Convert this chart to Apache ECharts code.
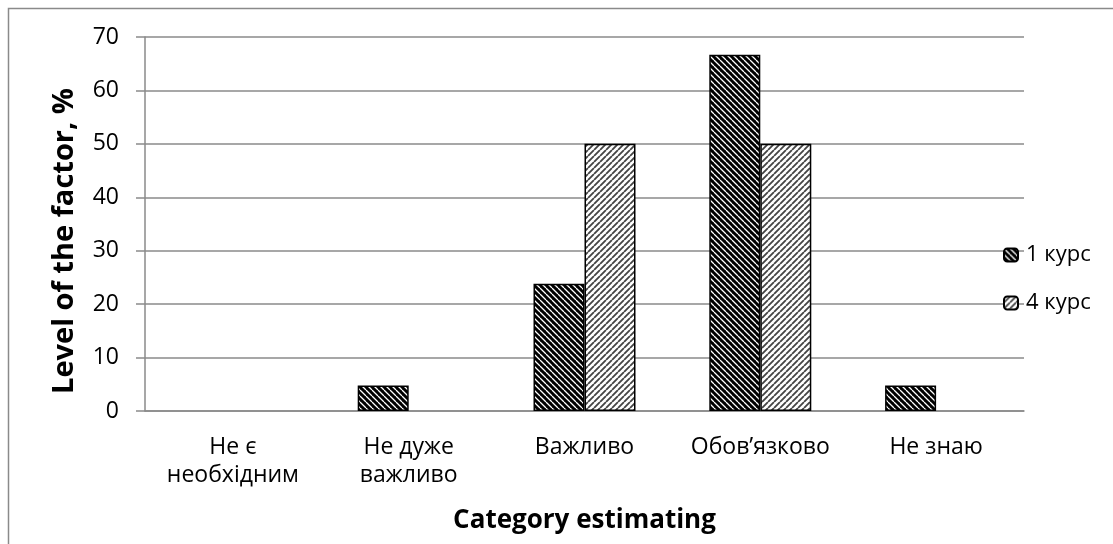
<!DOCTYPE html>
<html>
<head>
<meta charset="utf-8">
<script src="https://cdn.jsdelivr.net/npm/echarts@6/dist/echarts.min.js"></script>
<style>html,body{margin:0;padding:0;background:#fff}#c{width:1113px;height:544px}</style>
</head>
<body>
<div id="c"></div>
<script>
const categories = ['Не є\nнеобхідним', 'Не дуже\nважливо', 'Важливо', 'Обов’язково', 'Не знаю'];
const seriesNames = ['1 курс', '4 курс'];
const course1 = [0, 4.76, 23.8, 66.7, 4.76];
const course4 = [0, 0, 50, 50, 0];
const yTicks = {min: 0, max: 70, interval: 10};

function makePattern(dark) {
  const s = 6;
  const c = document.createElement('canvas');
  c.width = s; c.height = s;
  const g = c.getContext('2d');
  g.fillStyle = dark ? '#000' : '#fff';
  g.fillRect(0, 0, s, s);
  g.strokeStyle = dark ? '#fff' : '#444';
  g.lineWidth = dark ? 1.3 : 1.8;
  g.beginPath();
  for (let k = -1; k <= 1; k++) {
    if (dark) { g.moveTo(k * s, 0); g.lineTo(k * s + s, s); }
    else { g.moveTo(k * s, s); g.lineTo(k * s + s, 0); }
  }
  g.stroke();
  return {image: c, repeat: 'repeat'};
}
// zero-height bars are not drawn in the original
const hideZero = arr => arr.map(v => (v === 0 ? '-' : v));

const font = '"Open Sans", "Noto Sans", sans-serif';
const chart = echarts.init(document.getElementById('c'));
chart.setOption({
  animation: false,
  textStyle: {fontFamily: font},
  graphic: [{type: 'rect', shape: {x: 8.5, y: 8.5, width: 1200, height: 600},
    style: {fill: 'none', stroke: '#8a8a8a', lineWidth: 1.5}, silent: true}],
  grid: {left: 145, right: 89, top: 37, bottom: 133},
  legend: {
    orient: 'vertical', left: 1003, top: 244, padding: 0, itemWidth: 14, itemHeight: 13, itemGap: 26,
    textStyle: {fontSize: 22, color: '#000', fontFamily: font, padding: [0, 0, 0, 3]},
    data: seriesNames
  },
  xAxis: {
    type: 'category', data: categories,
    axisLine: {lineStyle: {color: '#8a8a8a', width: 1.5}},
    axisTick: {show: false},
    axisLabel: {fontSize: 23, color: '#000', lineHeight: 28, margin: 22, interval: 0, fontFamily: font},
    name: 'Category estimating', nameLocation: 'middle', nameGap: 97,
    nameTextStyle: {fontSize: 26, fontWeight: 'bold', color: '#000', fontFamily: font}
  },
  yAxis: {
    type: 'value', min: yTicks.min, max: yTicks.max, interval: yTicks.interval,
    axisLine: {show: true, lineStyle: {color: '#8a8a8a', width: 1.5}},
    axisTick: {show: true, length: 9, lineStyle: {color: '#8a8a8a', width: 1.5}},
    splitLine: {lineStyle: {color: '#8a8a8a', width: 1.5}},
    axisLabel: {fontSize: 23, color: '#000', margin: 26, fontFamily: font},
    name: 'Level of the factor, %', nameLocation: 'middle', nameGap: 66,
    nameTextStyle: {fontSize: 29, fontWeight: 'bold', color: '#000', fontFamily: font, padding: [0, 34, 0, 0]}
  },
  series: [
    {name: seriesNames[0], type: 'bar', data: hideZero(course1), barWidth: 51, barGap: '0%',
     itemStyle: {color: makePattern(true), borderColor: '#000', borderWidth: 1.5}},
    {name: seriesNames[1], type: 'bar', data: hideZero(course4), barWidth: 51, barGap: '0%',
     itemStyle: {color: makePattern(false), borderColor: '#000', borderWidth: 1.5}}
  ]
});
</script>
</body>
</html>
